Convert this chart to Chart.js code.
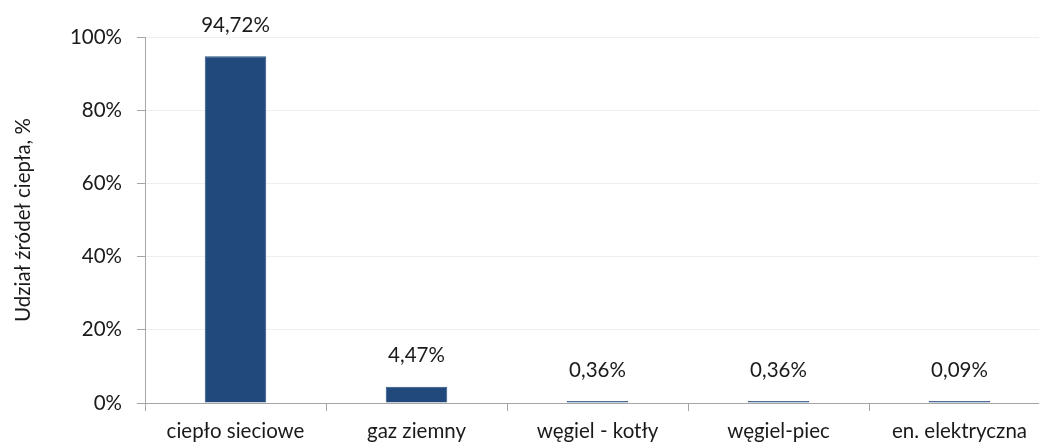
<!DOCTYPE html>
<html>
<head>
<meta charset="utf-8">
<script src="https://cdn.jsdelivr.net/npm/chart.js@4/dist/chart.umd.min.js"></script>
<style>
  html, body { margin: 0; padding: 0; background: #fff; overflow: hidden; }
  #wrap { position: relative; width: 1050px; height: 443px; }
</style>
</head>
<body>
<div id="wrap"><canvas id="myChart"></canvas></div>
<script>
const categories = ['ciepło sieciowe', 'gaz ziemny', 'węgiel - kotły', 'węgiel-piec', 'en. elektryczna']
const shares = [94.72, 4.47, 0.36, 0.36, 0.09]
const yTicks = [0, 20, 40, 60, 80, 100]

const fontFamily = 'Lato, "Open Sans", sans-serif'
const fontSize = 20.5

// Draw value labels above every bar
const valueLabels = {
  id: 'valueLabels',
  afterDatasetsDraw (chart) {
    const ctx = chart.ctx
    const meta = chart.getDatasetMeta(0)
    ctx.save()
    ctx.font = fontSize + 'px ' + fontFamily
    ctx.fillStyle = '#1a1a1a'
    ctx.textAlign = 'center'
    ctx.textBaseline = 'middle'
    meta.data.forEach((bar, i) => {
      const text = shares[i].toFixed(2).replace('.', ',') + '%'
      ctx.fillText(text, bar.x, bar.y - 31)
    })
    ctx.restore()
  }
}

const ctx = document.getElementById('myChart').getContext('2d')
new Chart(ctx, {
  type: 'bar',
  data: {
    labels: categories,
    datasets: [{
      data: shares,
      backgroundColor: '#21497b',
      borderColor: '#2c5284',
      borderWidth: 1,
      minBarLength: 2,
      categoryPercentage: 1,
      barPercentage: 0.34
    }]
  },
  options: {
    responsive: true,
    maintainAspectRatio: false,
    animation: false,
    layout: { padding: { top: 37, right: 0, bottom: 0, left: 0 } },
    plugins: {
      legend: { display: false },
      tooltip: { enabled: false }
    },
    scales: {
      x: {
        offset: true,
        grid: {
          offset: true,
          drawOnChartArea: false,
          drawTicks: true,
          tickLength: 8,
          color: '#a6a6a6'
        },
        border: { color: '#a6a6a6', width: 1 },
        ticks: {
          color: '#1a1a1a',
          font: { family: fontFamily, size: fontSize },
          padding: 8,
          maxRotation: 0
        },
        afterFit (scale) { scale.height = 40 }
      },
      y: {
        min: 0,
        max: 100,
        afterBuildTicks (scale) { scale.ticks = yTicks.map(v => ({ value: v })) },
        grid: {
          color: '#efefef',
          tickColor: '#a6a6a6',
          tickLength: 8
        },
        border: { color: '#a6a6a6', width: 1 },
        ticks: {
          color: '#1a1a1a',
          font: { family: fontFamily, size: fontSize },
          padding: 15,
          callback: v => v + '%'
        },
        title: {
          display: true,
          text: 'Udział źródeł ciepła, %',
          color: '#1a1a1a',
          font: { family: fontFamily, size: fontSize },
          padding: { top: 11, bottom: 0 }
        },
        afterFit (scale) { scale.width = 145 }
      }
    }
  },
  plugins: [valueLabels]
})
</script>
</body>
</html>
